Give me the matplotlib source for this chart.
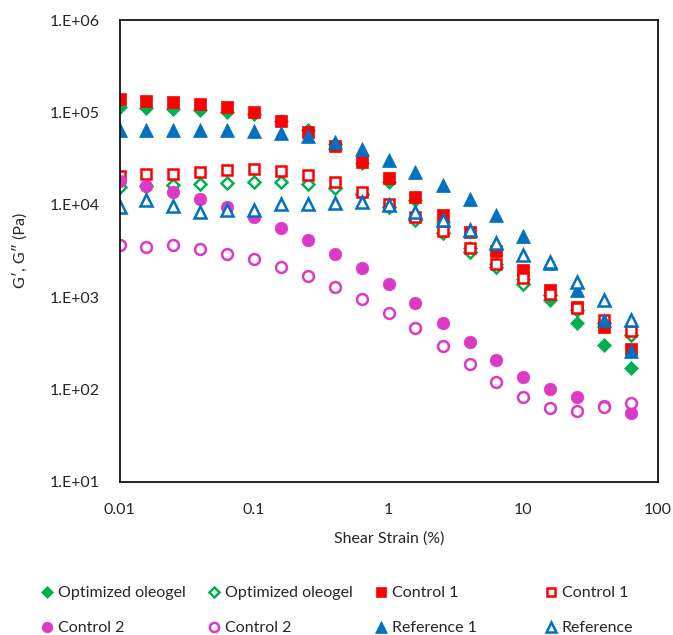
import matplotlib
matplotlib.use("Agg")
import matplotlib.pyplot as plt
from matplotlib.ticker import FixedLocator, FixedFormatter, NullLocator

plt.rcParams['font.family'] = ['Lato', 'DejaVu Sans']

strain = [0.01, 0.0158, 0.0251, 0.0398, 0.0631, 0.1, 0.158, 0.251, 0.398, 0.631,
          1.0, 1.58, 2.51, 3.98, 6.31, 10.0, 15.8, 25.1, 39.8, 63.1]

oleogel_Gp = [1.15e5, 1.12e5, 1.08e5, 1.05e5, 1.02e5, 9.5e4, 8.0e4, 6.5e4, 4.5e4, 2.8e4,
              1.78e4, 1.12e4, 6.5e3, 3.4e3, 2.3e3, 1.56e3, 9.25e2, 5.25e2, 3.0e2, 1.71e2]
oleogel_Gpp = [1.56e4, 1.60e4, 1.63e4, 1.66e4, 1.73e4, 1.77e4, 1.76e4, 1.67e4, 1.50e4, 1.3e4,
               9.5e3, 6.9e3, 4.96e3, 3.1e3, 2.1e3, 1.4e3, 1.05e3, 7.3e2, 5.2e2, 3.9e2]
control1_Gp = [1.38e5, 1.34e5, 1.29e5, 1.24e5, 1.14e5, 1.0e5, 8.1e4, 6.2e4, 4.35e4, 2.92e4,
               1.93e4, 1.22e4, 7.7e3, 5.0e3, 3.16e3, 1.96e3, 1.19e3, 7.8e2, 4.75e2, 2.77e2]
control1_Gpp = [2.06e4, 2.13e4, 2.16e4, 2.25e4, 2.35e4, 2.41e4, 2.31e4, 2.09e4, 1.76e4, 1.36e4,
                1.02e4, 7.4e3, 5.24e3, 3.41e3, 2.27e3, 1.59e3, 1.07e3, 7.6e2, 5.6e2, 4.3e2]
control2_Gp = [1.82e4, 1.59e4, 1.38e4, 1.14e4, 9.35e3, 7.4e3, 5.53e3, 4.13e3, 2.96e3, 2.05e3,
               1.37e3, 8.65e2, 5.25e2, 3.27e2, 2.07e2, 1.36e2, 1.0e2, 8.2e1, 6.6e1, 5.6e1]
control2_Gpp = [3.62e3, 3.44e3, 3.65e3, 3.28e3, 2.96e3, 2.58e3, 2.12e3, 1.68e3, 1.27e3, 9.5e2,
                6.7e2, 4.57e2, 2.94e2, 1.86e2, 1.2e2, 8.2e1, 6.3e1, 5.9e1, 6.45e1, 7.1e1]
reference1_Gp = [6.43e4, 6.43e4, 6.43e4, 6.43e4, 6.43e4, 6.3e4, 6.0e4, 5.5e4, 4.8e4, 3.97e4,
                 3.04e4, 2.27e4, 1.63e4, 1.14e4, 7.7e3, 4.57e3, 2.35e3, 1.19e3, 5.6e2, 2.61e2]
reference_Gpp = [9.5e3, 1.12e4, 9.7e3, 8.4e3, 8.7e3, 8.7e3, 1.02e4, 1.02e4, 1.05e4, 1.07e4,
                 9.9e3, 8.4e3, 6.8e3, 5.3e3, 3.81e3, 2.84e3, 2.41e3, 1.46e3, 9.25e2, 5.7e2]

x_ticks = [0.01, 0.1, 1, 10, 100]
x_labels = ["0.01", "0.1", "1", "10", "100"]
y_ticks = [1e1, 1e2, 1e3, 1e4, 1e5, 1e6]
y_labels = ["1.E+01", "1.E+02", "1.E+03", "1.E+04", "1.E+05", "1.E+06"]

GREEN = "#00B050"
RED = "#FF0000"
MAGENTA = "#DD38C6"
BLUE = "#0070C0"

series = [
    ("Optimized oleogel", oleogel_Gp, "D", GREEN, True, 7.5),
    ("Optimized oleogel", oleogel_Gpp, "D", GREEN, False, 6.3),
    ("Control 1", control1_Gp, "s", RED, True, 8.8),
    ("Control 1", control1_Gpp, "s", RED, False, 7.6),
    ("Control 2", control2_Gp, "o", MAGENTA, True, 9.0),
    ("Control 2", control2_Gpp, "o", MAGENTA, False, 7.8),
    ("Reference 1", reference1_Gp, "^", BLUE, True, 9.5),
    ("Reference", reference_Gpp, "^", BLUE, False, 8.3),
]

fig = plt.figure(figsize=(6.73, 6.35), dpi=100)
ax = fig.add_axes([119.5 / 673, 1 - 481.7 / 635, (658 - 119.5) / 673, (481.7 - 20) / 635])

handles = []
for label, vals, mk, col, filled, ms in series:
    if filled:
        h, = ax.plot(strain, vals, linestyle="none", marker=mk, markersize=ms,
                     markerfacecolor=col, markeredgecolor=col, markeredgewidth=0.5,
                     label=label)
    else:
        h, = ax.plot(strain, vals, linestyle="none", marker=mk, markersize=ms,
                     markerfacecolor="white", markeredgecolor=col, markeredgewidth=1.8,
                     label=label)
    handles.append(h)

ax.set_xscale("log")
ax.set_yscale("log")
ax.set_xlim(0.01, 100)
ax.set_ylim(1e1, 1e6)
ax.xaxis.set_major_locator(FixedLocator(x_ticks))
ax.xaxis.set_major_formatter(FixedFormatter(x_labels))
ax.xaxis.set_minor_locator(NullLocator())
ax.yaxis.set_major_locator(FixedLocator(y_ticks))
ax.yaxis.set_major_formatter(FixedFormatter(y_labels))
ax.yaxis.set_minor_locator(NullLocator())
ax.tick_params(axis="x", length=0, labelsize=11.5, pad=15, colors="#262626")
ax.tick_params(axis="y", length=0, labelsize=11.5, pad=14, colors="#262626")
for sp in ax.spines.values():
    sp.set_linewidth(1.2)
    sp.set_color("black")

ax.set_xlabel("Shear Strain (%)", fontsize=11.5, color="#262626", labelpad=11)
ax.set_ylabel("G\u2032, G\u2033 (Pa)", fontsize=11.5, color="#262626", labelpad=16)

# legend: 4 columns, each its own legend for equal column spacing
cols = [(0, 4), (1, 5), (2, 6), (3, 7)]
col_x = [41, 208, 375, 545]
for (i, j), xp in zip(cols, col_x):
    leg = fig.legend([handles[i], handles[j]],
                     [series[i][0], series[j][0]],
                     loc="upper left", bbox_to_anchor=(xp / 673, 1 - 586 / 635),
                     frameon=False, fontsize=11.5, ncol=1, handlelength=0.7,
                     handletextpad=0.35, labelspacing=1.3, borderpad=0,
                     borderaxespad=0, markerscale=0.85)
    for t in leg.get_texts():
        t.set_color("#262626")

fig.savefig("out.png", dpi=100)
